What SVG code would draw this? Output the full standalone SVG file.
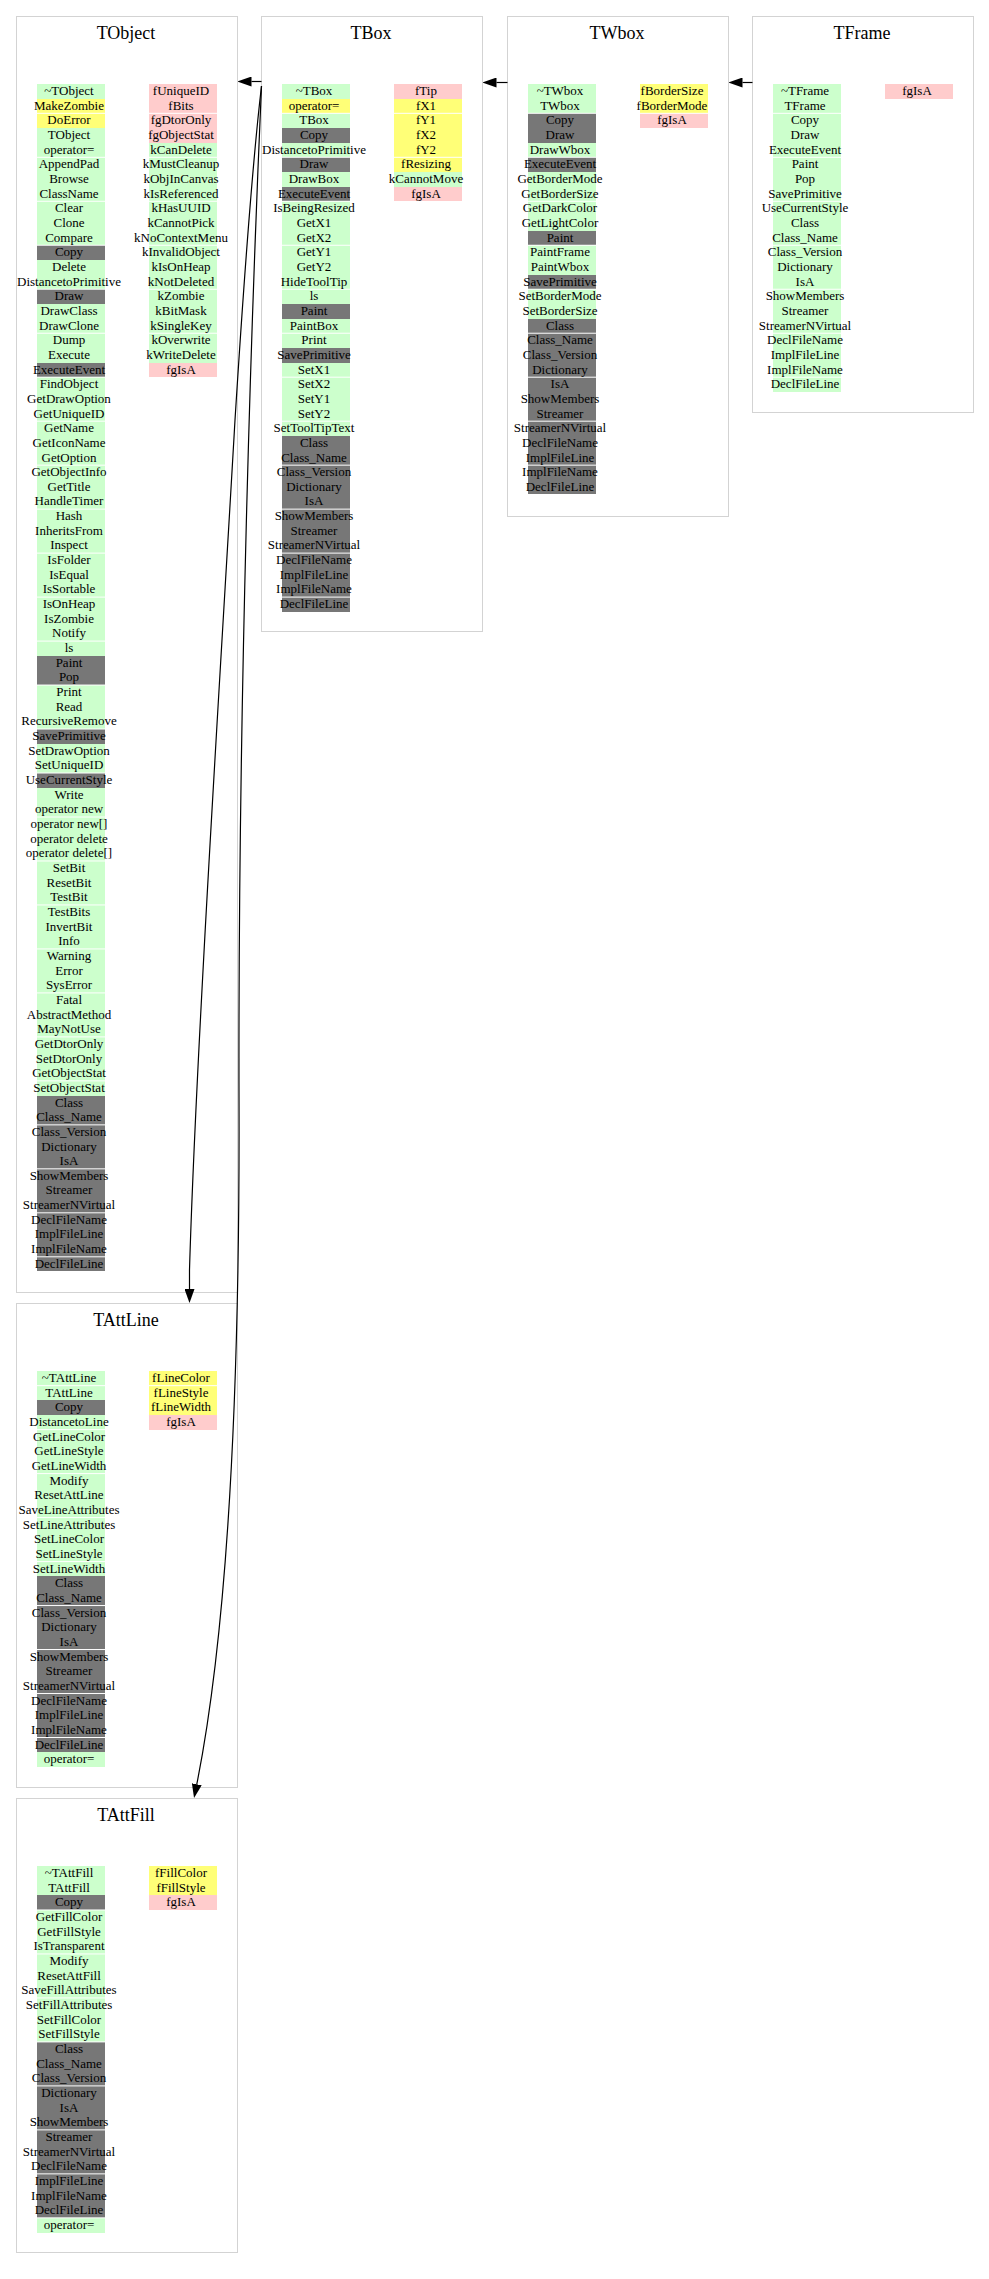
<svg xmlns="http://www.w3.org/2000/svg" width="989" height="2279" viewBox="0 0 989 2279">
<style>
.box{fill:#fff;stroke:#d3d3d3;stroke-width:1}
.ttl{font-family:"Liberation Serif","Times New Roman",serif;font-size:18px;text-anchor:middle;fill:#000}
.t{font-family:"Liberation Serif","Times New Roman",serif;font-size:13px;text-anchor:middle;fill:#000}
.g{fill:#ccffcc}.y{fill:#ffff77}.p{fill:#ffcccc}.k{fill:#777777}
rect.g,rect.y,rect.p,rect.k{shape-rendering:crispEdges}
.sep{stroke:#fff;stroke-width:1;fill:none}
.edge{fill:none;stroke:#000;stroke-width:1.2;marker-end:url(#ah)}
</style>
<defs>
<marker id="ah" markerUnits="userSpaceOnUse" markerWidth="14" markerHeight="10" refX="0" refY="5" orient="auto" viewBox="0 0 14 10"><path d="M0,0 L14,5 L0,10 z" fill="#000"/></marker>
</defs>
<rect width="989" height="2279" fill="#fff"/>

<g id="TObject" transform="translate(16,16)">
<rect class="box" x="0.5" y="0.5" width="221" height="1276"/>
<text class="ttl" x="110" y="23">TObject</text>
<rect class="g" x="21" y="68" width="68" height="14.66"/>
<rect class="y" x="21" y="82.66" width="68" height="29.32"/>
<rect class="g" x="21" y="111.98" width="68" height="117.28"/>
<rect class="k" x="21" y="229.26" width="68" height="14.66"/>
<rect class="g" x="21" y="243.92" width="68" height="29.32"/>
<rect class="k" x="21" y="273.24" width="68" height="14.66"/>
<rect class="g" x="21" y="287.9" width="68" height="58.64"/>
<rect class="k" x="21" y="346.54" width="68" height="14.66"/>
<rect class="g" x="21" y="361.2" width="68" height="278.54"/>
<rect class="k" x="21" y="639.74" width="68" height="29.32"/>
<rect class="g" x="21" y="669.06" width="68" height="43.98"/>
<rect class="k" x="21" y="713.04" width="68" height="14.66"/>
<rect class="g" x="21" y="727.7" width="68" height="29.32"/>
<rect class="k" x="21" y="757.02" width="68" height="14.66"/>
<rect class="g" x="21" y="771.68" width="68" height="307.86"/>
<rect class="k" x="21" y="1079.54" width="68" height="175.92"/>
<rect class="p" x="133" y="68" width="68" height="58.64"/>
<rect class="g" x="133" y="126.64" width="68" height="219.9"/>
<rect class="p" x="133" y="346.54" width="68" height="14.66"/>
<path class="sep" d="M21,97.32h68m44,0h68M21,141.3h68m44,0h68M21,185.28h68m44,0h68M21,229.26h68m44,0h68M21,273.24h68m44,0h68M21,317.22h68m44,0h68M21,361.2h68M21,405.18h68M21,449.16h68M21,493.14h68M21,537.12h68M21,581.1h68M21,625.08h68M21,669.06h68M21,713.04h68M21,757.02h68M21,801h68M21,844.98h68M21,888.96h68M21,932.94h68M21,976.92h68M21,1020.9h68M21,1064.88h68M21,1108.86h68M21,1152.84h68M21,1196.82h68M21,1240.8h68"/>
<text class="t" y="79"><tspan x="53">~TObject</tspan><tspan x="53" dy="14.66">MakeZombie</tspan><tspan x="53" dy="14.66">DoError</tspan><tspan x="53" dy="14.66">TObject</tspan><tspan x="53" dy="14.66">operator=</tspan><tspan x="53" dy="14.66">AppendPad</tspan><tspan x="53" dy="14.66">Browse</tspan><tspan x="53" dy="14.66">ClassName</tspan><tspan x="53" dy="14.66">Clear</tspan><tspan x="53" dy="14.66">Clone</tspan><tspan x="53" dy="14.66">Compare</tspan><tspan x="53" dy="14.66">Copy</tspan><tspan x="53" dy="14.66">Delete</tspan><tspan x="53" dy="14.66">DistancetoPrimitive</tspan><tspan x="53" dy="14.66">Draw</tspan><tspan x="53" dy="14.66">DrawClass</tspan><tspan x="53" dy="14.66">DrawClone</tspan><tspan x="53" dy="14.66">Dump</tspan><tspan x="53" dy="14.66">Execute</tspan><tspan x="53" dy="14.66">ExecuteEvent</tspan><tspan x="53" dy="14.66">FindObject</tspan><tspan x="53" dy="14.66">GetDrawOption</tspan><tspan x="53" dy="14.66">GetUniqueID</tspan><tspan x="53" dy="14.66">GetName</tspan><tspan x="53" dy="14.66">GetIconName</tspan><tspan x="53" dy="14.66">GetOption</tspan><tspan x="53" dy="14.66">GetObjectInfo</tspan><tspan x="53" dy="14.66">GetTitle</tspan><tspan x="53" dy="14.66">HandleTimer</tspan><tspan x="53" dy="14.66">Hash</tspan><tspan x="53" dy="14.66">InheritsFrom</tspan><tspan x="53" dy="14.66">Inspect</tspan><tspan x="53" dy="14.66">IsFolder</tspan><tspan x="53" dy="14.66">IsEqual</tspan><tspan x="53" dy="14.66">IsSortable</tspan><tspan x="53" dy="14.66">IsOnHeap</tspan><tspan x="53" dy="14.66">IsZombie</tspan><tspan x="53" dy="14.66">Notify</tspan><tspan x="53" dy="14.66">ls</tspan><tspan x="53" dy="14.66">Paint</tspan><tspan x="53" dy="14.66">Pop</tspan><tspan x="53" dy="14.66">Print</tspan><tspan x="53" dy="14.66">Read</tspan><tspan x="53" dy="14.66">RecursiveRemove</tspan><tspan x="53" dy="14.66">SavePrimitive</tspan><tspan x="53" dy="14.66">SetDrawOption</tspan><tspan x="53" dy="14.66">SetUniqueID</tspan><tspan x="53" dy="14.66">UseCurrentStyle</tspan><tspan x="53" dy="14.66">Write</tspan><tspan x="53" dy="14.66">operator new</tspan><tspan x="53" dy="14.66">operator new[]</tspan><tspan x="53" dy="14.66">operator delete</tspan><tspan x="53" dy="14.66">operator delete[]</tspan><tspan x="53" dy="14.66">SetBit</tspan><tspan x="53" dy="14.66">ResetBit</tspan><tspan x="53" dy="14.66">TestBit</tspan><tspan x="53" dy="14.66">TestBits</tspan><tspan x="53" dy="14.66">InvertBit</tspan><tspan x="53" dy="14.66">Info</tspan><tspan x="53" dy="14.66">Warning</tspan><tspan x="53" dy="14.66">Error</tspan><tspan x="53" dy="14.66">SysError</tspan><tspan x="53" dy="14.66">Fatal</tspan><tspan x="53" dy="14.66">AbstractMethod</tspan><tspan x="53" dy="14.66">MayNotUse</tspan><tspan x="53" dy="14.66">GetDtorOnly</tspan><tspan x="53" dy="14.66">SetDtorOnly</tspan><tspan x="53" dy="14.66">GetObjectStat</tspan><tspan x="53" dy="14.66">SetObjectStat</tspan><tspan x="53" dy="14.66">Class</tspan><tspan x="53" dy="14.66">Class_Name</tspan><tspan x="53" dy="14.66">Class_Version</tspan><tspan x="53" dy="14.66">Dictionary</tspan><tspan x="53" dy="14.66">IsA</tspan><tspan x="53" dy="14.66">ShowMembers</tspan><tspan x="53" dy="14.66">Streamer</tspan><tspan x="53" dy="14.66">StreamerNVirtual</tspan><tspan x="53" dy="14.66">DeclFileName</tspan><tspan x="53" dy="14.66">ImplFileLine</tspan><tspan x="53" dy="14.66">ImplFileName</tspan><tspan x="53" dy="14.66">DeclFileLine</tspan></text>
<text class="t" y="79"><tspan x="165">fUniqueID</tspan><tspan x="165" dy="14.66">fBits</tspan><tspan x="165" dy="14.66">fgDtorOnly</tspan><tspan x="165" dy="14.66">fgObjectStat</tspan><tspan x="165" dy="14.66">kCanDelete</tspan><tspan x="165" dy="14.66">kMustCleanup</tspan><tspan x="165" dy="14.66">kObjInCanvas</tspan><tspan x="165" dy="14.66">kIsReferenced</tspan><tspan x="165" dy="14.66">kHasUUID</tspan><tspan x="165" dy="14.66">kCannotPick</tspan><tspan x="165" dy="14.66">kNoContextMenu</tspan><tspan x="165" dy="14.66">kInvalidObject</tspan><tspan x="165" dy="14.66">kIsOnHeap</tspan><tspan x="165" dy="14.66">kNotDeleted</tspan><tspan x="165" dy="14.66">kZombie</tspan><tspan x="165" dy="14.66">kBitMask</tspan><tspan x="165" dy="14.66">kSingleKey</tspan><tspan x="165" dy="14.66">kOverwrite</tspan><tspan x="165" dy="14.66">kWriteDelete</tspan><tspan x="165" dy="14.66">fgIsA</tspan></text>
</g>

<g id="TBox" transform="translate(261,16)">
<rect class="box" x="0.5" y="0.5" width="221" height="615"/>
<text class="ttl" x="110" y="23">TBox</text>
<rect class="g" x="21" y="68" width="68" height="14.66"/>
<rect class="y" x="21" y="82.66" width="68" height="14.66"/>
<rect class="g" x="21" y="97.32" width="68" height="14.66"/>
<rect class="k" x="21" y="111.98" width="68" height="14.66"/>
<rect class="g" x="21" y="126.64" width="68" height="14.66"/>
<rect class="k" x="21" y="141.3" width="68" height="14.66"/>
<rect class="g" x="21" y="155.96" width="68" height="14.66"/>
<rect class="k" x="21" y="170.62" width="68" height="14.66"/>
<rect class="g" x="21" y="185.28" width="68" height="102.62"/>
<rect class="k" x="21" y="287.9" width="68" height="14.66"/>
<rect class="g" x="21" y="302.56" width="68" height="29.32"/>
<rect class="k" x="21" y="331.88" width="68" height="14.66"/>
<rect class="g" x="21" y="346.54" width="68" height="73.3"/>
<rect class="k" x="21" y="419.84" width="68" height="175.92"/>
<rect class="p" x="133" y="68" width="68" height="14.66"/>
<rect class="y" x="133" y="82.66" width="68" height="73.3"/>
<rect class="g" x="133" y="155.96" width="68" height="14.66"/>
<rect class="p" x="133" y="170.62" width="68" height="14.66"/>
<path class="sep" d="M21,97.32h68m44,0h68M21,141.3h68m44,0h68M21,185.28h68M21,229.26h68M21,273.24h68M21,317.22h68M21,361.2h68M21,405.18h68M21,449.16h68M21,493.14h68M21,537.12h68M21,581.1h68"/>
<text class="t" y="79"><tspan x="53">~TBox</tspan><tspan x="53" dy="14.66">operator=</tspan><tspan x="53" dy="14.66">TBox</tspan><tspan x="53" dy="14.66">Copy</tspan><tspan x="53" dy="14.66">DistancetoPrimitive</tspan><tspan x="53" dy="14.66">Draw</tspan><tspan x="53" dy="14.66">DrawBox</tspan><tspan x="53" dy="14.66">ExecuteEvent</tspan><tspan x="53" dy="14.66">IsBeingResized</tspan><tspan x="53" dy="14.66">GetX1</tspan><tspan x="53" dy="14.66">GetX2</tspan><tspan x="53" dy="14.66">GetY1</tspan><tspan x="53" dy="14.66">GetY2</tspan><tspan x="53" dy="14.66">HideToolTip</tspan><tspan x="53" dy="14.66">ls</tspan><tspan x="53" dy="14.66">Paint</tspan><tspan x="53" dy="14.66">PaintBox</tspan><tspan x="53" dy="14.66">Print</tspan><tspan x="53" dy="14.66">SavePrimitive</tspan><tspan x="53" dy="14.66">SetX1</tspan><tspan x="53" dy="14.66">SetX2</tspan><tspan x="53" dy="14.66">SetY1</tspan><tspan x="53" dy="14.66">SetY2</tspan><tspan x="53" dy="14.66">SetToolTipText</tspan><tspan x="53" dy="14.66">Class</tspan><tspan x="53" dy="14.66">Class_Name</tspan><tspan x="53" dy="14.66">Class_Version</tspan><tspan x="53" dy="14.66">Dictionary</tspan><tspan x="53" dy="14.66">IsA</tspan><tspan x="53" dy="14.66">ShowMembers</tspan><tspan x="53" dy="14.66">Streamer</tspan><tspan x="53" dy="14.66">StreamerNVirtual</tspan><tspan x="53" dy="14.66">DeclFileName</tspan><tspan x="53" dy="14.66">ImplFileLine</tspan><tspan x="53" dy="14.66">ImplFileName</tspan><tspan x="53" dy="14.66">DeclFileLine</tspan></text>
<text class="t" y="79"><tspan x="165">fTip</tspan><tspan x="165" dy="14.66">fX1</tspan><tspan x="165" dy="14.66">fY1</tspan><tspan x="165" dy="14.66">fX2</tspan><tspan x="165" dy="14.66">fY2</tspan><tspan x="165" dy="14.66">fResizing</tspan><tspan x="165" dy="14.66">kCannotMove</tspan><tspan x="165" dy="14.66">fgIsA</tspan></text>
</g>

<g id="TWbox" transform="translate(507,16)">
<rect class="box" x="0.5" y="0.5" width="221" height="500"/>
<text class="ttl" x="110" y="23">TWbox</text>
<rect class="g" x="21" y="68" width="68" height="29.32"/>
<rect class="k" x="21" y="97.32" width="68" height="29.32"/>
<rect class="g" x="21" y="126.64" width="68" height="14.66"/>
<rect class="k" x="21" y="141.3" width="68" height="14.66"/>
<rect class="g" x="21" y="155.96" width="68" height="58.64"/>
<rect class="k" x="21" y="214.6" width="68" height="14.66"/>
<rect class="g" x="21" y="229.26" width="68" height="29.32"/>
<rect class="k" x="21" y="258.58" width="68" height="14.66"/>
<rect class="g" x="21" y="273.24" width="68" height="29.32"/>
<rect class="k" x="21" y="302.56" width="68" height="175.92"/>
<rect class="y" x="133" y="68" width="68" height="29.32"/>
<rect class="p" x="133" y="97.32" width="68" height="14.66"/>
<path class="sep" d="M21,97.32h68m44,0h68M21,141.3h68M21,185.28h68M21,229.26h68M21,273.24h68M21,317.22h68M21,361.2h68M21,405.18h68M21,449.16h68"/>
<text class="t" y="79"><tspan x="53">~TWbox</tspan><tspan x="53" dy="14.66">TWbox</tspan><tspan x="53" dy="14.66">Copy</tspan><tspan x="53" dy="14.66">Draw</tspan><tspan x="53" dy="14.66">DrawWbox</tspan><tspan x="53" dy="14.66">ExecuteEvent</tspan><tspan x="53" dy="14.66">GetBorderMode</tspan><tspan x="53" dy="14.66">GetBorderSize</tspan><tspan x="53" dy="14.66">GetDarkColor</tspan><tspan x="53" dy="14.66">GetLightColor</tspan><tspan x="53" dy="14.66">Paint</tspan><tspan x="53" dy="14.66">PaintFrame</tspan><tspan x="53" dy="14.66">PaintWbox</tspan><tspan x="53" dy="14.66">SavePrimitive</tspan><tspan x="53" dy="14.66">SetBorderMode</tspan><tspan x="53" dy="14.66">SetBorderSize</tspan><tspan x="53" dy="14.66">Class</tspan><tspan x="53" dy="14.66">Class_Name</tspan><tspan x="53" dy="14.66">Class_Version</tspan><tspan x="53" dy="14.66">Dictionary</tspan><tspan x="53" dy="14.66">IsA</tspan><tspan x="53" dy="14.66">ShowMembers</tspan><tspan x="53" dy="14.66">Streamer</tspan><tspan x="53" dy="14.66">StreamerNVirtual</tspan><tspan x="53" dy="14.66">DeclFileName</tspan><tspan x="53" dy="14.66">ImplFileLine</tspan><tspan x="53" dy="14.66">ImplFileName</tspan><tspan x="53" dy="14.66">DeclFileLine</tspan></text>
<text class="t" y="79"><tspan x="165">fBorderSize</tspan><tspan x="165" dy="14.66">fBorderMode</tspan><tspan x="165" dy="14.66">fgIsA</tspan></text>
</g>

<g id="TFrame" transform="translate(752,16)">
<rect class="box" x="0.5" y="0.5" width="221" height="396"/>
<text class="ttl" x="110" y="23">TFrame</text>
<rect class="g" x="21" y="68" width="68" height="307.86"/>
<rect class="p" x="133" y="68" width="68" height="14.66"/>
<path class="sep" d="M21,97.32h68M21,141.3h68M21,185.28h68M21,229.26h68M21,273.24h68M21,317.22h68M21,361.2h68"/>
<text class="t" y="79"><tspan x="53">~TFrame</tspan><tspan x="53" dy="14.66">TFrame</tspan><tspan x="53" dy="14.66">Copy</tspan><tspan x="53" dy="14.66">Draw</tspan><tspan x="53" dy="14.66">ExecuteEvent</tspan><tspan x="53" dy="14.66">Paint</tspan><tspan x="53" dy="14.66">Pop</tspan><tspan x="53" dy="14.66">SavePrimitive</tspan><tspan x="53" dy="14.66">UseCurrentStyle</tspan><tspan x="53" dy="14.66">Class</tspan><tspan x="53" dy="14.66">Class_Name</tspan><tspan x="53" dy="14.66">Class_Version</tspan><tspan x="53" dy="14.66">Dictionary</tspan><tspan x="53" dy="14.66">IsA</tspan><tspan x="53" dy="14.66">ShowMembers</tspan><tspan x="53" dy="14.66">Streamer</tspan><tspan x="53" dy="14.66">StreamerNVirtual</tspan><tspan x="53" dy="14.66">DeclFileName</tspan><tspan x="53" dy="14.66">ImplFileLine</tspan><tspan x="53" dy="14.66">ImplFileName</tspan><tspan x="53" dy="14.66">DeclFileLine</tspan></text>
<text class="t" y="79"><tspan x="165">fgIsA</tspan></text>
</g>

<g id="TAttLine" transform="translate(16,1303)">
<rect class="box" x="0.5" y="0.5" width="221" height="484"/>
<text class="ttl" x="110" y="23">TAttLine</text>
<rect class="g" x="21" y="68" width="68" height="29.32"/>
<rect class="k" x="21" y="97.32" width="68" height="14.66"/>
<rect class="g" x="21" y="111.98" width="68" height="161.26"/>
<rect class="k" x="21" y="273.24" width="68" height="175.92"/>
<rect class="g" x="21" y="449.16" width="68" height="14.66"/>
<rect class="y" x="133" y="68" width="68" height="43.98"/>
<rect class="p" x="133" y="111.98" width="68" height="14.66"/>
<path class="sep" d="M21,82.66h68m44,0h68M21,126.64h68M21,170.62h68M21,214.6h68M21,258.58h68M21,302.56h68M21,346.54h68M21,390.52h68M21,434.5h68"/>
<text class="t" y="79"><tspan x="53">~TAttLine</tspan><tspan x="53" dy="14.66">TAttLine</tspan><tspan x="53" dy="14.66">Copy</tspan><tspan x="53" dy="14.66">DistancetoLine</tspan><tspan x="53" dy="14.66">GetLineColor</tspan><tspan x="53" dy="14.66">GetLineStyle</tspan><tspan x="53" dy="14.66">GetLineWidth</tspan><tspan x="53" dy="14.66">Modify</tspan><tspan x="53" dy="14.66">ResetAttLine</tspan><tspan x="53" dy="14.66">SaveLineAttributes</tspan><tspan x="53" dy="14.66">SetLineAttributes</tspan><tspan x="53" dy="14.66">SetLineColor</tspan><tspan x="53" dy="14.66">SetLineStyle</tspan><tspan x="53" dy="14.66">SetLineWidth</tspan><tspan x="53" dy="14.66">Class</tspan><tspan x="53" dy="14.66">Class_Name</tspan><tspan x="53" dy="14.66">Class_Version</tspan><tspan x="53" dy="14.66">Dictionary</tspan><tspan x="53" dy="14.66">IsA</tspan><tspan x="53" dy="14.66">ShowMembers</tspan><tspan x="53" dy="14.66">Streamer</tspan><tspan x="53" dy="14.66">StreamerNVirtual</tspan><tspan x="53" dy="14.66">DeclFileName</tspan><tspan x="53" dy="14.66">ImplFileLine</tspan><tspan x="53" dy="14.66">ImplFileName</tspan><tspan x="53" dy="14.66">DeclFileLine</tspan><tspan x="53" dy="14.66">operator=</tspan></text>
<text class="t" y="79"><tspan x="165">fLineColor</tspan><tspan x="165" dy="14.66">fLineStyle</tspan><tspan x="165" dy="14.66">fLineWidth</tspan><tspan x="165" dy="14.66">fgIsA</tspan></text>
</g>

<g id="TAttFill" transform="translate(16,1798)">
<rect class="box" x="0.5" y="0.5" width="221" height="454"/>
<text class="ttl" x="110" y="23">TAttFill</text>
<rect class="g" x="21" y="68" width="68" height="29.32"/>
<rect class="k" x="21" y="97.32" width="68" height="14.66"/>
<rect class="g" x="21" y="111.98" width="68" height="131.94"/>
<rect class="k" x="21" y="243.92" width="68" height="175.92"/>
<rect class="g" x="21" y="419.84" width="68" height="14.66"/>
<rect class="y" x="133" y="68" width="68" height="29.32"/>
<rect class="p" x="133" y="97.32" width="68" height="14.66"/>
<path class="sep" d="M21,111.98h68M21,155.96h68M21,199.94h68M21,243.92h68M21,287.9h68M21,331.88h68M21,375.86h68M21,419.84h68"/>
<text class="t" y="79"><tspan x="53">~TAttFill</tspan><tspan x="53" dy="14.66">TAttFill</tspan><tspan x="53" dy="14.66">Copy</tspan><tspan x="53" dy="14.66">GetFillColor</tspan><tspan x="53" dy="14.66">GetFillStyle</tspan><tspan x="53" dy="14.66">IsTransparent</tspan><tspan x="53" dy="14.66">Modify</tspan><tspan x="53" dy="14.66">ResetAttFill</tspan><tspan x="53" dy="14.66">SaveFillAttributes</tspan><tspan x="53" dy="14.66">SetFillAttributes</tspan><tspan x="53" dy="14.66">SetFillColor</tspan><tspan x="53" dy="14.66">SetFillStyle</tspan><tspan x="53" dy="14.66">Class</tspan><tspan x="53" dy="14.66">Class_Name</tspan><tspan x="53" dy="14.66">Class_Version</tspan><tspan x="53" dy="14.66">Dictionary</tspan><tspan x="53" dy="14.66">IsA</tspan><tspan x="53" dy="14.66">ShowMembers</tspan><tspan x="53" dy="14.66">Streamer</tspan><tspan x="53" dy="14.66">StreamerNVirtual</tspan><tspan x="53" dy="14.66">DeclFileName</tspan><tspan x="53" dy="14.66">ImplFileLine</tspan><tspan x="53" dy="14.66">ImplFileName</tspan><tspan x="53" dy="14.66">DeclFileLine</tspan><tspan x="53" dy="14.66">operator=</tspan></text>
<text class="t" y="79"><tspan x="165">fFillColor</tspan><tspan x="165" dy="14.66">fFillStyle</tspan><tspan x="165" dy="14.66">fgIsA</tspan></text>
</g>

<g id="connectors">
<path class="edge" d="M261.5,81.5 H251.5"/>
<path class="edge" d="M507.5,82.5 H496.5"/>
<path class="edge" d="M752.5,82.5 H742.5"/>
<path class="edge" d="M261.5,86 C254,150 247,230 235,420 C223,630 196,1050 189.5,1270 L189.5,1289"/>
<path class="edge" d="M261.5,86 C252,300 238,700 239,1100 C240,1400 226.8,1634 196.8,1784.2"/>
</g>
</svg>
